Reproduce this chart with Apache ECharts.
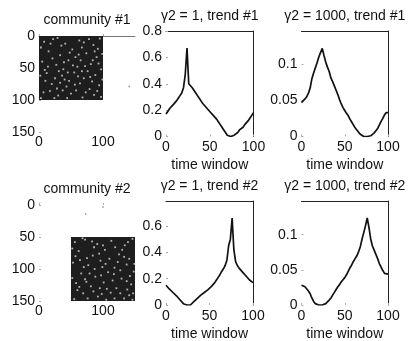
<!DOCTYPE html>
<html>
<head>
<meta charset="utf-8">
<script src="https://cdn.jsdelivr.net/npm/echarts@6/dist/echarts.min.js"></script>
<style>
html, body { margin: 0; padding: 0; background: #fff; }
#chart { width: 409px; height: 341px; }
</style>
</head>
<body>
<div id="chart"></div>
<script>
// time windows (x of the four trend panels)
var timeWindow = [0,2,4,6,8,10,12,14,16,18,20,22,24,26,28,30,32,34,36,38,40,42,44,46,48,50,
	52,54,56,58,60,62,64,66,68,70,72,74,76,78,80,82,84,86,88,90,92,94,96,98,100];

var trend1Gamma1 = [0.17,0.19,0.21,0.22,0.24,0.25,0.27,0.29,0.31,0.33,0.37,0.47,0.67,0.40,0.39,0.37,0.36,
	0.33,0.31,0.29,0.27,0.25,0.24,0.22,0.21,0.19,0.18,0.16,0.15,0.13,0.11,0.09,0.07,0.05,0.03,0.01,
	0,0,0,0.01,0.02,0.03,0.05,0.06,0.07,0.09,0.10,0.12,0.14,0.16,0.18];
var trend1Gamma1000 = [0.047,0.049,0.052,0.055,0.060,0.067,0.080,0.088,0.095,0.102,0.110,0.116,0.122,
	0.112,0.103,0.096,0.090,0.081,0.076,0.070,0.064,0.058,0.051,0.045,0.040,0.036,0.032,0.029,0.024,
	0.020,0.016,0.012,0.009,0.006,0.003,0.001,0,0,0,0,0.001,0.003,0.005,0.008,0.011,0.016,0.021,
	0.025,0.030,0.033,0.033];
var trend2Gamma1 = [0.15,0.135,0.12,0.11,0.095,0.085,0.07,0.055,0.04,0.025,0.01,0,0,0.005,0,0.01,0.025,
	0.035,0.05,0.06,0.075,0.085,0.095,0.105,0.115,0.125,0.14,0.155,0.17,0.19,0.21,0.23,0.255,0.275,
	0.30,0.34,0.45,0.50,0.66,0.42,0.33,0.30,0.28,0.265,0.25,0.235,0.22,0.205,0.19,0.18,0.17];
var trend2Gamma1000 = [0.028,0.027,0.026,0.024,0.020,0.016,0.010,0.005,0.002,0,0,0,0,0.001,0.002,0.004,
	0.007,0.010,0.014,0.018,0.022,0.026,0.029,0.033,0.036,0.039,0.043,0.048,0.053,0.057,0.062,0.066,
	0.070,0.076,0.083,0.094,0.103,0.113,0.124,0.110,0.094,0.084,0.078,0.072,0.066,0.059,0.054,0.049,
	0.045,0.044,0.044];

// community blocks in the adjacency matrix: [xFrom, xTo, yFrom, yTo]
var community1Block = [0, 100, 0, 100];
var community2Block = [50, 150, 50, 150];
// missing entries inside the blocks
var community1Gaps = [[8,9],[22,5],[41,12],[63,7],[85,14],[95,4],[15,24],[33,30],[52,21],[74,27],[90,33],
	[5,40],[27,45],[46,38],[60,48],[81,44],[97,52],[12,58],[36,62],[55,57],[70,66],[88,61],[20,75],
	[43,79],[64,74],[79,83],[94,77],[7,88],[30,93],[50,90],[68,96],[86,92],[18,12],[57,33],[38,52],
	[76,55],[25,66],[47,70],[92,20],[10,70],[58,85],[83,71],[35,15],[70,10],[3,97],[97,95],[44,97],
	[28,82],[65,38],[14,48],[3,18],[29,3],[48,26],[67,18],[78,5],[99,28],[21,35],[39,41],[62,29],
	[84,38],[9,53],[31,55],[53,46],[72,47],[93,43],[17,86],[40,68],[61,63],[80,64],[99,68],[24,97],
	[37,85],[56,76],[73,88],[91,86],[2,62],[45,57],[67,55],[33,73],[87,24]];
var community2Gaps = [[56,58],[72,54],[91,61],[113,56],[134,63],[146,53],[62,72],[84,79],[103,70],
	[125,77],[141,84],[53,90],[77,94],[96,87],[118,98],[137,93],[148,104],[66,107],[88,112],[108,105],
	[129,115],[58,122],[81,127],[101,121],[121,130],[144,124],[69,138],[92,143],[112,137],[133,146],
	[55,147],[79,107],[99,97],[142,111],[60,133],[115,118],[86,66],[130,70],[74,120],[105,148],
	[147,138],[64,86],[123,89],[95,130],[138,132],[52,68],[68,52],[83,57],[100,63],[119,66],[139,58],
	[57,80],[75,83],[94,76],[110,84],[133,81],[149,92],[70,97],[87,100],[104,92],[127,102],[52,114],
	[72,116],[97,110],[117,108],[137,119],[63,128],[85,135],[106,131],[127,138],[146,148],[76,146],
	[98,139],[118,146],[141,141]];
// isolated entries outside the blocks
var community1Stray = [[141,79]];
var community2Stray = [[100,3],[73,14]];

// tick labels
var spyXTicks = [0, 100];
var spyYTicks = [0, 50, 100, 150];
var timeTicks = [0, 50, 100];
var gamma1Ticks = [0, 0.2, 0.4, 0.6, 0.8];
var gamma1000Ticks = [0, 0.05, 0.1];

var panelTitles = ['community #1', 'γ2 = 1, trend #1', 'γ2 = 1000, trend #1',
	'community #2', 'γ2 = 1, trend #2', 'γ2 = 1000, trend #2'];

(function(){
	var myChart = echarts.init(document.getElementById('chart'));
	var font = { fontFamily: 'Liberation Sans, Arial, sans-serif', fontSize: 14, color: '#111' };
	var tick = { show: true, inside: true, length: 2, lineStyle: { color: '#aaa' } };

	var grids = [
		{ left: 39, top: 36, width: 96, height: 96 },
		{ left: 166, top: 31, width: 87.5, height: 105.5 },
		{ left: 301.5, top: 31, width: 86.5, height: 105.5 },
		{ left: 39, top: 205, width: 96, height: 96 },
		{ left: 166, top: 201, width: 87, height: 104 },
		{ left: 301.5, top: 201, width: 86.5, height: 104 }
	];
	grids.forEach(function(g){ g.outerBoundsMode = 'none'; });

	var xAxes = [], yAxes = [];
	function addPanel(i, spy, yMax, yTicks, topLine, rightLine) {
		var xMax = spy ? 150 : 100;
		var xTicks = spy ? spyXTicks : timeTicks;
		// bottom axis: labels (+ "time window")
		xAxes.push({
			type: 'value', gridIndex: i, min: 0, max: xMax, position: 'bottom',
			axisLine: { show: false }, splitLine: { show: false },
			axisTick: Object.assign({ customValues: xTicks }, tick),
			axisLabel: Object.assign({ customValues: xTicks, margin: spy ? 3 : 4 }, font),
			name: spy ? '' : 'time window', nameLocation: 'middle', nameGap: 22,
			nameTextStyle: font
		});
		// top axis: box line + title
		xAxes.push({
			type: 'value', gridIndex: i, min: 0, max: xMax, position: 'top',
			axisLine: { show: topLine, onZero: false, lineStyle: { color: spy ? '#777' : '#222', width: 1 } },
			axisTick: { show: false }, axisLabel: { show: false }, splitLine: { show: false },
			name: panelTitles[i], nameLocation: 'middle', nameGap: spy ? 9 : 8,
			nameTextStyle: font
		});
		yAxes.push({
			type: 'value', gridIndex: i, min: 0, max: yMax, inverse: spy, position: 'left',
			axisLine: { show: false }, splitLine: { show: false },
			axisTick: Object.assign({ customValues: yTicks }, tick),
			axisLabel: Object.assign({ customValues: yTicks, margin: 4 }, font)
		});
		yAxes.push({
			type: 'value', gridIndex: i, min: 0, max: yMax, position: 'right',
			axisLine: { show: rightLine, onZero: false, lineStyle: { color: '#222', width: 1 } },
			axisTick: { show: false }, axisLabel: { show: false }, splitLine: { show: false }
		});
	}
	addPanel(0, true, 150, spyYTicks, true, false);
	addPanel(1, false, 0.8, gamma1Ticks, true, true);
	addPanel(2, false, 0.146, gamma1000Ticks, true, true);
	addPanel(3, true, 150, spyYTicks, false, false);
	addPanel(4, false, 0.79, gamma1Ticks, true, true);
	addPanel(5, false, 0.148, gamma1000Ticks, true, true);

	function pairs(xs, ys) {
		return xs.map(function(x, k){ return [x, ys[k]]; });
	}
	function blockSeries(i, block) {
		return {
			type: 'custom', xAxisIndex: i * 2, yAxisIndex: i * 2,
			data: [block], encode: { x: [0, 1], y: [2, 3] }, silent: true,
			renderItem: function(params, api) {
				var p0 = api.coord([api.value(0), api.value(2)]);
				var p1 = api.coord([api.value(1), api.value(3)]);
				return {
					type: 'rect',
					shape: { x: Math.min(p0[0], p1[0]), y: Math.min(p0[1], p1[1]),
						width: Math.abs(p1[0] - p0[0]), height: Math.abs(p1[1] - p0[1]) },
					style: { fill: '#1e1e1e' }
				};
			}
		};
	}
	function dots(i, data, color, size) {
		return {
			type: 'scatter', xAxisIndex: i * 2, yAxisIndex: i * 2, data: data,
			symbol: 'rect', symbolSize: size, silent: true, z: 3,
			itemStyle: { color: color }
		};
	}
	function trend(i, ys) {
		return {
			type: 'line', xAxisIndex: i * 2, yAxisIndex: i * 2, data: pairs(timeWindow, ys),
			showSymbol: false, silent: true,
			lineStyle: { color: '#111', width: 1.7 }
		};
	}

	var option = {
		animation: false,
		backgroundColor: '#fff',
		grid: grids,
		xAxis: xAxes,
		yAxis: yAxes,
		series: [
			blockSeries(0, community1Block),
			dots(0, community1Gaps, '#d8d8d8', 1.8),
			dots(0, community1Stray, '#777', 1.5),
			trend(1, trend1Gamma1),
			trend(2, trend1Gamma1000),
			blockSeries(3, community2Block),
			dots(3, community2Gaps, '#d8d8d8', 1.8),
			dots(3, community2Stray, '#777', 1.5),
			trend(4, trend2Gamma1),
			trend(5, trend2Gamma1000)
		]
	};
	myChart.setOption(option);
	window.addEventListener('resize', function() {
		myChart.resize();
	});
})();
</script>
</body>
</html>
